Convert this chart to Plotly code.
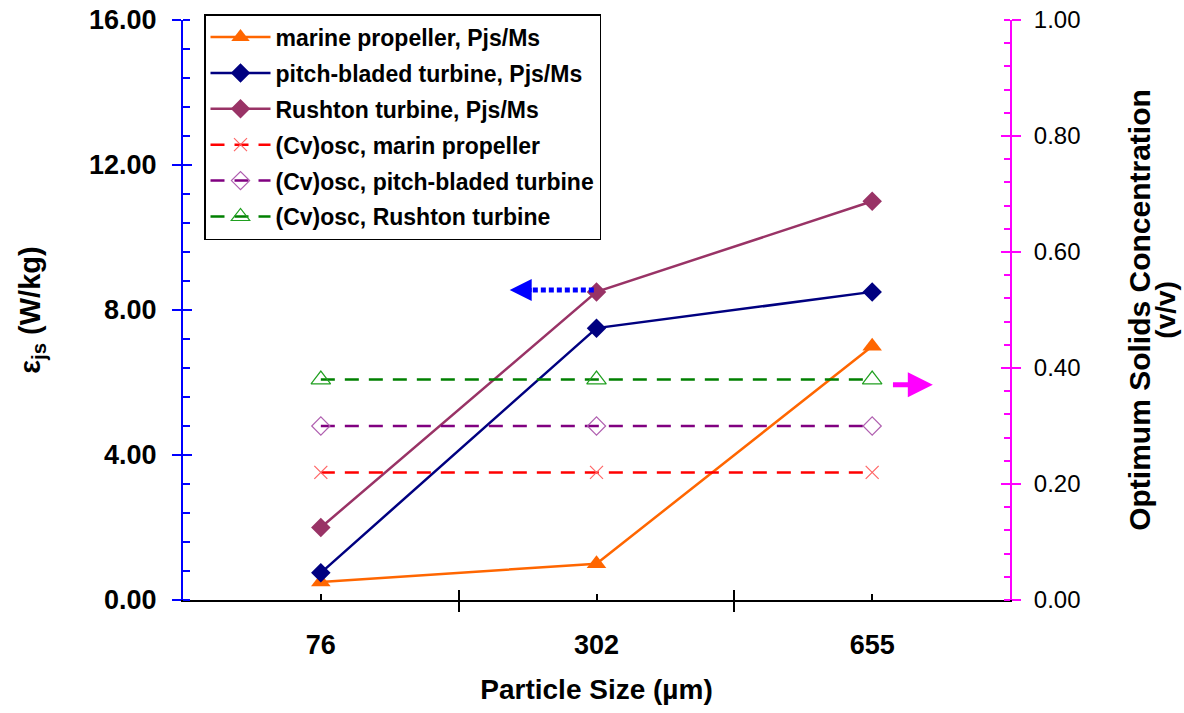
import plotly.graph_objects as go

# Particle sizes (µm) shown as categories along the x axis
sizes = ["76", "302", "655"]

# Just-suspended specific power, Pjs/Ms (W/kg) - left axis
marine_propeller = [0.5, 1.0, 7.0]
pitch_bladed = [0.75, 7.5, 8.5]
rushton = [2.0, 8.5, 11.0]

# Optimum solids concentration (Cv)osc (v/v) - right axis
cv_marine = [0.22, 0.22, 0.22]
cv_pitch = [0.30, 0.30, 0.30]
cv_rushton = [0.38, 0.38, 0.38]

left_ticks = [0, 4, 8, 12, 16]
right_ticks = [0.0, 0.2, 0.4, 0.6, 0.8, 1.0]

FONT = "Liberation Sans, Arial, sans-serif"
xpos = list(range(len(sizes)))
bounds = [i - 0.5 for i in range(len(sizes) + 1)]
xrange_ = [bounds[0], bounds[-1]]

fig = go.Figure()

solid_series = [
    ("marine propeller, Pjs/Ms", marine_propeller, "#FF6600", "triangle-up", 17),
    ("pitch-bladed turbine, Pjs/Ms", pitch_bladed, "#000080", "diamond", 15),
    ("Rushton turbine, Pjs/Ms", rushton, "#993366", "diamond", 15),
]
for name, vals, col, sym, sz in solid_series:
    fig.add_trace(go.Scatter(
        x=xpos, y=vals, name=name, mode="lines+markers",
        line=dict(color=col, width=2.5),
        marker=dict(symbol=sym, size=sz, color=col, line=dict(width=0)),
        yaxis="y", legendgroup=name,
    ))

dashed_series = [
    ("(Cv)osc, marin propeller", cv_marine, "#FF0000", "x-thin-open", 13, "#FF6666"),
    ("(Cv)osc, pitch-bladed turbine", cv_pitch, "#800080", "diamond-open", 14, "#B060B0"),
    ("(Cv)osc, Rushton turbine", cv_rushton, "#008000", "triangle-up-open", 17, "#20A020"),
]
for name, vals, col, sym, sz, mcol in dashed_series:
    fig.add_trace(go.Scatter(
        x=xpos, y=vals, name=name, mode="lines+markers",
        line=dict(color=col, width=2.5, dash="14px,10px"),
        marker=dict(symbol=sym, size=sz, color=mcol, line=dict(width=1.2, color=mcol)),
        yaxis="y2", legendgroup=name,
    ))

# empty traces so the overlay tick axes are laid out
fig.add_trace(go.Scatter(x=[], y=[], xaxis="x2", yaxis="y", showlegend=False, hoverinfo="skip"))
fig.add_trace(go.Scatter(x=[], y=[], xaxis="x", yaxis="y3", showlegend=False, hoverinfo="skip"))
fig.add_trace(go.Scatter(x=[], y=[], xaxis="x", yaxis="y4", showlegend=False, hoverinfo="skip"))

# dotted arrow pointing to the left axis
fig.add_shape(type="line", xref="x", yref="y", x0=0.74, x1=1.0, y0=8.55, y1=8.55,
              line=dict(color="#0000FF", width=5, dash="5px,3px"))
fig.add_annotation(x=0.685, y=8.55, ax=0.77, ay=8.55, xref="x", yref="y", axref="x", ayref="y",
                   text="", showarrow=True, arrowhead=2, arrowsize=1.1, arrowwidth=4,
                   arrowcolor="#0000FF")
# solid arrow pointing to the right axis
fig.add_annotation(x=2.22, y=0.371, ax=2.07, ay=0.371, xref="x", yref="y2", axref="x", ayref="y2",
                   text="", showarrow=True, arrowhead=2, arrowsize=1.0, arrowwidth=5,
                   arrowcolor="#FF00FF")
# second line of the right axis title (units)
fig.add_annotation(x=1.187, y=0.5, xref="paper", yref="paper", text="(v/v)", textangle=-90,
                   showarrow=False, xanchor="center", yanchor="middle", borderpad=0,
                   font=dict(family=FONT, size=28, weight="bold", color="black"))

fig.update_layout(
    width=1184, height=713,
    margin=dict(l=183, r=174, t=20, b=113),
    paper_bgcolor="white", plot_bgcolor="white",
    font=dict(family=FONT, color="black"),
    showlegend=True,
    legend=dict(
        x=0.0254, y=1.0103, xanchor="left", yanchor="top",
        bgcolor="white", bordercolor="black", borderwidth=1.5,
        font=dict(family=FONT, size=23, weight="bold", color="black"),
        itemwidth=60, tracegroupgap=3,
    ),
    xaxis=dict(
        range=xrange_, tickmode="array", tickvals=xpos, ticktext=sizes,
        ticks="inside", ticklen=6, tickwidth=1.5, tickcolor="black",
        showline=True, linecolor="black", linewidth=2, showgrid=False, zeroline=False,
        tickfont=dict(family=FONT, size=27, weight="bold"), ticklabelstandoff=20,
        minor=dict(tickmode="array", tickvals=bounds, ticks="outside", ticklen=10,
                   tickwidth=1.5, tickcolor="black", showgrid=False),
        title=dict(text="Particle Size (µm)", font=dict(family=FONT, size=28, weight="bold"),
                   standoff=20),
        anchor="y", automargin=False,
    ),
    xaxis2=dict(
        overlaying="x", anchor="y", range=xrange_, tickmode="array", tickvals=bounds[1:-1],
        ticks="inside", ticklen=10, tickwidth=1.5, tickcolor="black",
        showticklabels=False, showline=False, showgrid=False, zeroline=False, automargin=False,
    ),
    yaxis=dict(
        range=[0, 16], tickmode="array", tickvals=left_ticks, tickformat=".2f",
        ticks="outside", ticklen=9, tickwidth=2, tickcolor="#0000FF",
        showline=True, linecolor="#0000FF", linewidth=2, showgrid=False, zeroline=False,
        tickfont=dict(family=FONT, size=27, weight="bold"), ticklabelstandoff=10,
        minor=dict(tick0=0, dtick=0.8, ticks="inside", ticklen=7, tickwidth=1.5,
                   tickcolor="#0000FF", showgrid=False),
        title=dict(text="ε<sub>js</sub> (W/kg)", font=dict(family=FONT, size=29, weight="bold"),
                   standoff=40),
        anchor="x", automargin=False,
    ),
    yaxis3=dict(
        overlaying="y", anchor="x", side="left", range=[0, 16], tickmode="array",
        tickvals=left_ticks, ticks="inside", ticklen=9, tickwidth=2, tickcolor="#0000FF",
        showticklabels=False, showline=False, showgrid=False, zeroline=False, automargin=False,
    ),
    yaxis2=dict(
        overlaying="y", side="right", anchor="x", range=[0, 1], tickmode="array",
        tickvals=right_ticks, tickformat=".2f",
        ticks="outside", ticklen=9, tickwidth=2, tickcolor="#FF00FF",
        showline=True, linecolor="#FF00FF", linewidth=2, showgrid=False, zeroline=False,
        tickfont=dict(family=FONT, size=24), ticklabelstandoff=8,
        minor=dict(tick0=0, dtick=0.04, ticks="inside", ticklen=6, tickwidth=1.5,
                   tickcolor="#FF00FF", showgrid=False),
        title=dict(text="Optimum Solids Concentration",
                   font=dict(family=FONT, size=30, weight="bold"), standoff=49),
        automargin=False,
    ),
    yaxis4=dict(
        overlaying="y", side="right", anchor="x", range=[0, 1], tickmode="array",
        tickvals=right_ticks, ticks="inside", ticklen=9, tickwidth=2, tickcolor="#FF00FF",
        showticklabels=False, showline=False, showgrid=False, zeroline=False, automargin=False,
    ),
)

fig.write_html("out.html")
